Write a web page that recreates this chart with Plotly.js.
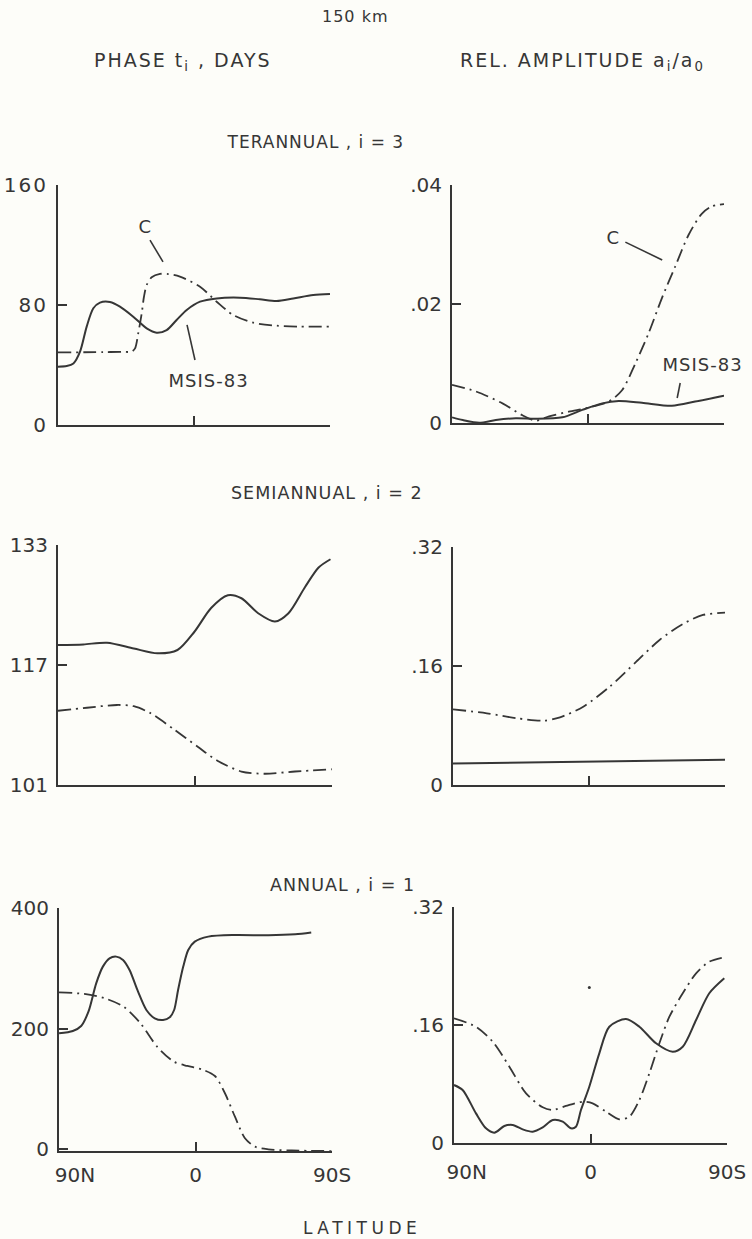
<!DOCTYPE html>
<html><head><meta charset="utf-8">
<script src="https://cdn.plot.ly/plotly-3.0.1.min.js"></script>
<style>
html,body{margin:0;padding:0;background:#fdfdf9;}
#chart{width:752px;height:1239px;}
#chart .ytick text, #chart .xtick text {letter-spacing:2px;}
#chart .annotation-text {letter-spacing:1px;}
#chart g.annotation[data-index="1"] text.annotation-text,
#chart g.annotation[data-index="2"] text.annotation-text {letter-spacing:2px;}
#chart g.annotation[data-index="6"] text.annotation-text {letter-spacing:4.5px;}
</style></head><body><div id="chart"></div>
<script>
// ---------- DATA (latitude: +90 = 90N, -90 = 90S) ----------
// TERANNUAL phase (days)
const latTerPhaseMsis = [90, 84.2, 79.8, 75.4, 71, 66.6, 62.2, 55.6, 49, 40.2, 31.3, 24.7, 18.1, 11.5, 4.8, -4, -15, -30.4, -43.6, -54.7, -65.7, -78.9, -90];
const terPhaseMsis    = [38.9, 39.3, 41, 48.9, 65.6, 77.8, 81.6, 82, 78.9, 72.2, 64.4, 61.5, 63.3, 70, 76.7, 82.2, 84.4, 84.9, 83.8, 82.7, 84.4, 86.7, 87.3];
const latTerPhaseC = [90, 60, 48, 41.3, 39, 36.9, 34.6, 33.1, 31.3, 28, 22.5, 17, 9.3, -4, -15, -26, -39.2, -54.7, -70.1, -90];
const terPhaseC    = [48.4, 48.6, 48.8, 48.9, 51.1, 61.1, 74.4, 85.5, 93.3, 98.5, 100.7, 100.6, 98.9, 92.2, 82.2, 73.3, 68.2, 66.2, 65.6, 65.6];
// TERANNUAL relative amplitude
const latTerAmpC = [90, 74.2, 56.6, 43.4, 34.6, 25.8, 12.7, -0.5, -13.7, -22.5, -31.3, -40.1, -48.9, -57.7, -66.5, -75.4, -81.9, -90];
const terAmpC    = [0.0064, 0.0053, 0.0033, 0.0013, 0.0004, 0.0011, 0.0019, 0.0026, 0.0036, 0.0055, 0.0100, 0.0151, 0.0210, 0.0263, 0.0316, 0.0352, 0.0364, 0.0368];
const latTerAmpMsis = [90, 82.9, 72, 61, 47.8, 34.6, 17, 3.8, -9.4, -20.3, -35.7, -55.5, -70.9, -90];
const terAmpMsis    = [0.00095, 0.0005, 0.00005, 0.0005, 0.0008, 0.0007, 0.00095, 0.0022, 0.0033, 0.0037, 0.0034, 0.0029, 0.0036, 0.0046];
// SEMIANNUAL phase (days)
const latSemiPhaseMsis = [90, 73.3, 57.8, 40.2, 24.7, 11.5, 0.5, -10.6, -21.6, -30.5, -41.5, -52.5, -61.4, -72.3, -81.2, -89];
const semiPhaseMsis    = [119.67, 119.75, 119.97, 119.2, 118.56, 119, 121.4, 124.6, 126.3, 125.9, 123.9, 122.8, 123.9, 127.4, 130, 131.1];
const latSemiPhaseC = [90, 71, 51.2, 40.2, 29.1, 13.7, -1.8, -15, -30.5, -45.9, -65.7, -90];
const semiPhaseC    = [110.9, 111.3, 111.67, 111.5, 110.56, 108.4, 106.1, 104.2, 102.8, 102.5, 102.8, 103.1];
// SEMIANNUAL relative amplitude
const latSemiAmpC = [90, 67.6, 47.8, 30.2, 19.2, 3.8, -13.7, -31.3, -46.7, -62.1, -75.4, -90];
const semiAmpC    = [0.1018, 0.0964, 0.0897, 0.0865, 0.091, 0.1053, 0.1322, 0.1658, 0.195, 0.2165, 0.2286, 0.2317];
const latSemiAmpMsis = [90, -90];
const semiAmpMsis    = [0.029, 0.034];
// ANNUAL phase (days)
const latAnnPhaseMsis = [90, 80.9, 75.4, 70.6, 65.5, 61.1, 56.7, 52.3, 47.8, 43.5, 37.9, 32.4, 26.9, 21.4, 17, 14.1, 11.5, 8.1, 4.8, 0.5, -8.4, -26, -48.1, -65.7, -76.3];
const annPhaseMsis    = [192, 195.9, 204.2, 228, 275, 302.7, 316.5, 319.3, 313.7, 297, 261.2, 230.7, 216.9, 214.1, 218.6, 230.7, 263.9, 302.7, 330.3, 344.2, 352.5, 355.2, 354.7, 356.3, 359.2];
const latAnnPhaseC = [90, 73.3, 60, 47.4, 36.3, 25.3, 14.3, 5.4, -4, -12.8, -19.4, -26, -32.6, -39.2, -48, -63.5, -90];
const annPhaseC    = [260.1, 257.3, 250.2, 236.2, 208.6, 169.8, 144.9, 137.8, 132.3, 121.2, 92.5, 53.6, 17.8, 3.9, -0.5, -2.5, -3.5];
// ANNUAL relative amplitude
const latAnnAmpC = [90, 75.5, 64.5, 53.5, 42.5, 31.5, 24.9, 16.2, 5.1, -1.4, -10.2, -19, -25.6, -32.2, -38.8, -45.4, -52, -60.8, -69.6, -78.3, -88.2];
const annAmpC    = [0.169, 0.1577, 0.1374, 0.1035, 0.0673, 0.0484, 0.0447, 0.0502, 0.056, 0.0538, 0.0425, 0.0321, 0.0357, 0.0583, 0.0945, 0.1352, 0.1712, 0.203, 0.23, 0.2458, 0.2518];
const latAnnAmpMsis = [90, 84.3, 75.5, 68.9, 63.4, 56.8, 51.3, 44.7, 38.1, 31.5, 24.9, 18.3, 12.9, 9.6, 6.3, 0.8, -5.8, -12.4, -23.4, -32.2, -43.2, -54.2, -60.8, -69.6, -78.3, -88.2];
const annAmpMsis    = [0.0786, 0.0719, 0.0402, 0.0199, 0.014, 0.023, 0.0244, 0.0185, 0.0154, 0.0213, 0.0312, 0.0289, 0.0199, 0.0221, 0.0447, 0.0763, 0.1216, 0.1577, 0.1681, 0.1577, 0.1352, 0.1238, 0.1306, 0.1668, 0.203, 0.2233];
const latSpeck = [0.8];
const annAmpSpeck = [0.211];

// tick labels
const latTickVals = [90, 0, -90];
const latTickText = ['\u00a0\u00a0\u00a0\u00a0\u00a090N', '0', '90S'];
const latTickTextR = ['\u00a0\u00a0\u00a0\u00a090N', '0', '90S'];
const terPhaseTicks = [0, 80, 160],  terPhaseTickText = ['0', '80', '160'];
const terAmpTicks = [0, 0.02, 0.04], terAmpTickText = ['0', '.02', '.04'];
const semiPhaseTicks = [101, 117, 133], semiPhaseTickText = ['101', '117', '133'];
const semiAmpTicks = [0, 0.16, 0.32], semiAmpTickText = ['0', '.16', '.32'];
const annPhaseTicks = [0, 200, 400], annPhaseTickText = ['0', '200', '400'];
const annAmpTicks = [0, 0.16, 0.32], annAmpTickText = ['0', '.16', '.32'];

// ---------- STYLE ----------
const ink = '#363636';
const bg = '#fdfdf9';
const font = 'DejaVu Sans';
const solid = {color: ink, width: 2, shape: 'spline', smoothing: 0.8};
const dashdot = {color: ink, width: 1.8, shape: 'spline', smoothing: 0.8, dash: '13px,5px,2px,5px'};

function tr(x, y, xa, ya, line) {
  return {x: x, y: y, xaxis: xa, yaxis: ya, type: 'scatter', mode: 'lines', line: line, hoverinfo: 'skip'};
}
const data = [
  tr(latTerPhaseMsis, terPhaseMsis, 'x', 'y', solid),
  tr(latTerPhaseC, terPhaseC, 'x', 'y', dashdot),
  tr(latTerAmpMsis, terAmpMsis, 'x2', 'y2', solid),
  tr(latTerAmpC, terAmpC, 'x2', 'y2', dashdot),
  tr(latSemiPhaseMsis, semiPhaseMsis, 'x3', 'y3', solid),
  tr(latSemiPhaseC, semiPhaseC, 'x3', 'y3', dashdot),
  tr(latSemiAmpMsis, semiAmpMsis, 'x4', 'y4', solid),
  tr(latSemiAmpC, semiAmpC, 'x4', 'y4', dashdot),
  tr(latAnnPhaseMsis, annPhaseMsis, 'x5', 'y5', solid),
  tr(latAnnPhaseC, annPhaseC, 'x5', 'y5', dashdot),
  tr(latAnnAmpMsis, annAmpMsis, 'x6', 'y6', solid),
  tr(latAnnAmpC, annAmpC, 'x6', 'y6', dashdot),
  {x: latSpeck, y: annAmpSpeck, xaxis: 'x6', yaxis: 'y6', type: 'scatter', mode: 'markers',
   marker: {color: ink, size: 3}, hoverinfo: 'skip', cliponaxis: false}
];

const tickFont = {family: font, size: 20, color: ink};
function xax(domain, anchor, labels, standoff) {
  return {domain: domain, anchor: anchor, range: [90, -90], autorange: false,
    tickmode: 'array', tickvals: latTickVals, ticktext: labels || latTickText,
    showticklabels: !!labels, ticks: 'inside', ticklen: 9, tickwidth: 2, tickcolor: ink,
    showline: true, linewidth: 2, linecolor: ink, showgrid: false, zeroline: false,
    tickfont: tickFont, ticklabelstandoff: standoff || 0, fixedrange: true};
}
function yax(domain, anchor, range, vals, text) {
  return {domain: domain, anchor: anchor, range: range, autorange: false,
    tickmode: 'array', tickvals: vals, ticktext: text,
    ticks: 'inside', ticklen: 9, tickwidth: 2, tickcolor: ink,
    showline: true, linewidth: 2, linecolor: ink, showgrid: false, zeroline: false,
    tickfont: tickFont, ticklabelstandoff: 4, fixedrange: true};
}

const ann = [];
function hdr(text, x, y, size) {
  ann.push({text: text, xref: 'paper', yref: 'paper', x: x, y: y, xanchor: 'center', yanchor: 'middle',
    showarrow: false, font: {family: font, size: size, color: ink}});
}
hdr('150 km', 0.472, 0.9863, 16);
hdr('PHASE t<sub>i</sub> , DAYS', 0.2434, 0.950, 19);
hdr('REL. AMPLITUDE a<sub>i</sub>/a<sub>0</sub>', 0.774, 0.950, 19);
hdr('TERANNUAL , i = 3', 0.419, 0.8854, 17);
hdr('SEMIANNUAL , i = 2', 0.435, 0.602, 17.5);
hdr('ANNUAL , i = 1', 0.455, 0.2857, 17.5);
hdr('LATITUDE', 0.482, 0.0085, 17);

function lbl(text, xr, yr, x, y) {
  ann.push({text: text, xref: xr, yref: yr, x: x, y: y, xanchor: 'center', yanchor: 'middle',
    showarrow: false, font: {family: font, size: 18, color: ink}});
}
lbl('C', 'x', 'y', 32.4, 132);
lbl('MSIS-83', 'x', 'y', -9.3, 30);
lbl('C', 'x2', 'y2', -16.8, 0.0311);
lbl('MSIS-83', 'x2', 'y2', -75.5, 0.00975);

// leader lines from labels to curves
const shapes = [];
function leader(xr, yr, x0, y0, x1, y1) {
  shapes.push({type: 'line', xref: xr, yref: yr, x0: x0, y0: y0, x1: x1, y1: y1,
    line: {color: ink, width: 1.6}});
}
leader('x', 'y', 29.1, 123.3, 20.5, 108.7);
leader('x', 'y', -0.66, 43.3, 4.6, 66.7);
leader('x2', 'y2', -24.7, 0.0304, -49.1, 0.0274);
leader('x2', 'y2', -61, 0.00672, -59, 0.0042);

const layout = {
  width: 752, height: 1239, margin: {l: 0, r: 0, t: 0, b: 0},
  paper_bgcolor: bg, plot_bgcolor: bg, showlegend: false,
  xaxis:  xax([0.0771, 0.4388], 'y'),
  yaxis:  yax([0.65698, 0.85069], 'x', [0, 160], terPhaseTicks, terPhaseTickText),
  xaxis2: xax([0.6011, 0.9628], 'y2'),
  yaxis2: yax([0.65860, 0.85069], 'x2', [0, 0.04], terAmpTicks, terAmpTickText),
  xaxis3: xax([0.0771, 0.4415], 'y3'),
  yaxis3: yax([0.36642, 0.56013], 'x3', [101, 133], semiPhaseTicks, semiPhaseTickText),
  xaxis4: xax([0.6024, 0.9641], 'y4'),
  yaxis4: yax([0.36642, 0.55851], 'x4', [0, 0.32], semiAmpTicks, semiAmpTickText),
  xaxis5: xax([0.0785, 0.4415], 'y5', latTickText, 5),
  yaxis5: yax([0.0707, 0.26715], 'x5', [-4, 400], annPhaseTicks, annPhaseTickText),
  xaxis6: xax([0.6037, 0.9668], 'y6', latTickTextR, 10),
  yaxis6: yax([0.07748, 0.26796], 'x6', [0, 0.32], annAmpTicks, annAmpTickText),
  annotations: ann,
  shapes: shapes
};

Plotly.newPlot('chart', data, layout, {staticPlot: true, displayModeBar: false});
</script></body></html>
